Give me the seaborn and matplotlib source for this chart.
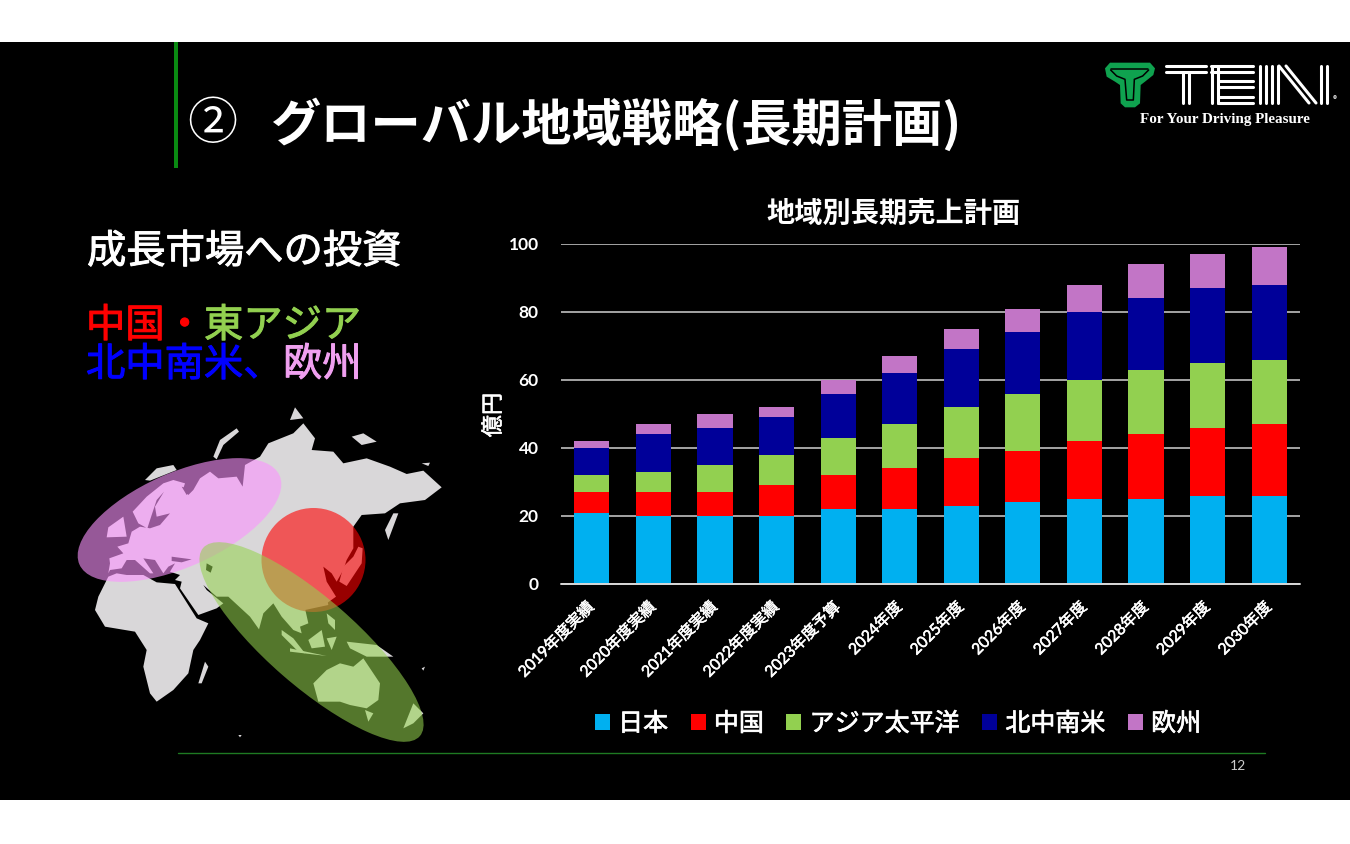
from matplotlib import pyplot as plt
from matplotlib.patches import Ellipse, Polygon, Patch, Rectangle
from matplotlib.transforms import ScaledTranslation
import matplotlib.patheffects as pe
import seaborn as sns
import numpy as np

years = ['2019年度実績', '2020年度実績', '2021年度実績', '2022年度実績', '2023年度予算', '2024年度',
         '2025年度', '2026年度', '2027年度', '2028年度', '2029年度', '2030年度']
japan = [21, 20, 20, 20, 22, 22, 23, 24, 25, 25, 26, 26]
china = [6, 7, 7, 9, 10, 12, 14, 15, 17, 19, 20, 21]
asia = [5, 6, 8, 9, 11, 13, 15, 17, 18, 19, 19, 19]
americas = [8, 11, 11, 11, 13, 15, 17, 18, 20, 21, 22, 22]
europe = [2, 3, 4, 3, 4, 5, 6, 7, 8, 10, 10, 11]
names = ['日本', '中国', 'アジア太平洋', '北中南米', '欧州']
colors = ['#00B0F0', '#FF0000', '#92D050', '#000099', '#C275C6']

sns.set_theme(style='dark')
plt.rcParams['font.family'] = ['Noto Sans CJK JP', 'DejaVu Sans']
latin_cjk = ['Lato', 'Noto Sans CJK JP']

W, H = 1350, 844
fig = plt.figure(figsize=(13.5, 8.44), dpi=100, facecolor='white')

# page overlay in pixel coordinates
bg = fig.add_axes([0, 0, 1, 1], zorder=0)
bg.set_xlim(0, W)
bg.set_ylim(H, 0)
bg.axis('off')
bg.add_patch(Rectangle((0, 42), W, 758, color='black', lw=0))
bg.add_patch(Rectangle((174, 42), 4, 126, color='#0A8A12', lw=0))
bg.plot([178, 1265], [753, 753], color='#1E7A22', lw=1)
bg.text(1238, 766, '12', color='#cccccc', fontsize=10, family='Lato', ha='center', va='center')

bg.text(187, 125, '②', color='white', fontsize=36, ha='left', va='center')
bg.text(270, 125, 'グローバル地域戦略(長期計画)', color='white', fontsize=36.2, fontweight='bold', ha='left', va='center')


def row(y, parts):
    for x, txt, c in parts:
        t = bg.text(x, y, txt, color=c, fontsize=28.3, ha='left', va='center')
        t.set_path_effects([pe.withStroke(linewidth=0.7, foreground=c)])


row(252, [(87, '成長市場への投資', 'white')])
row(326, [(86, '中国', '#FF0000'), (165, '・', '#FF0000'), (204, '東アジア', '#92D050')])
row(365, [(86, '北中南米、', '#0000FF'), (283, '欧州', '#F0A0F0')])


def mp(points):
    return [(60 + x / 3, 400 + y / 3) for x, y in points]


def lg(points):
    # logo shapes, 3x crop starting at (1090, 50)
    return [(1090 + x / 3, 50 + y / 3) for x, y in points]


land = [
    # eurasia
    [(145, 520), (150, 490), (148, 475), (190, 460), (172, 440), (205, 430), (215, 395), (240, 380), (270, 385), (300, 375),
     (330, 340), (290, 350), (285, 320), (312, 275), (290, 300), (275, 345), (262, 385), (235, 370), (218, 335), (260, 290),
     (310, 250), (340, 240), (375, 250), (370, 265), (385, 285), (400, 270), (420, 235), (450, 215), (475, 235), (530, 230),
     (548, 260), (555, 195), (600, 170), (625, 130), (700, 100), (730, 70), (765, 115), (755, 150), (820, 155), (850, 190),
     (920, 175), (990, 200), (1040, 222), (1090, 212), (1145, 262), (1095, 300), (1020, 310), (975, 340), (905, 345), (880, 380),
     (880, 445), (860, 480), (850, 510), (830, 545), (815, 520), (790, 500), (800, 545), (828, 590), (800, 610), (735, 625),
     (745, 670), (720, 680), (725, 700), (700, 690), (665, 650), (640, 610), (610, 640), (597, 688), (570, 650), (505, 590),
     (470, 590), (430, 555), (440, 570), (490, 610), (470, 625), (415, 645), (360, 565), (365, 545), (345, 540), (360, 525),
     (330, 515), (345, 490), (325, 500), (310, 520), (285, 480), (250, 475), (280, 520), (270, 520), (225, 480), (200, 480),
     (185, 505), (150, 510)],
    # africa
    [(105, 630), (115, 590), (145, 530), (170, 520), (200, 525), (250, 525), (290, 547), (345, 552), (410, 655), (445, 670),
     (420, 720), (400, 750), (385, 820), (340, 870), (290, 905), (270, 880), (250, 800), (260, 750), (225, 695), (135, 680)],
    [(145, 382), (190, 350), (200, 410), (140, 412)],
    [(460, 170), (480, 120), (530, 85), (537, 95), (490, 135), (470, 178)],
    [(255, 240), (290, 205), (340, 195), (350, 210), (270, 242)],
    [(690, 60), (705, 22), (730, 55)],
    [(875, 110), (910, 100), (950, 125), (905, 135)],
    [(975, 390), (1000, 340), (1015, 340), (985, 420)],
    [(850, 500), (880, 470), (895, 440), (908, 445), (905, 490), (860, 558), (838, 545)],
    [(415, 850), (435, 785), (445, 800), (425, 850)],
    [(760, 850), (800, 810), (840, 790), (880, 800), (910, 775), (960, 850), (955, 900), (920, 925), (870, 915), (840, 905), (775, 905)],
    [(1030, 985), (1060, 910), (1090, 940), (1060, 970)],
    [(665, 690), (700, 715), (735, 760), (715, 755), (665, 705)],
    [(745, 720), (785, 690), (795, 740), (755, 745)],
    [(800, 640), (825, 660), (825, 690), (805, 670)],
    [(860, 725), (950, 735), (1000, 770), (920, 770), (870, 745)],
    [(690, 745), (800, 768), (690, 755)],
    [(800, 715), (830, 710), (815, 750)],
    [(915, 930), (940, 940), (925, 965)],
    [(730, 610), (800, 590), (805, 615), (735, 630)],
    [(1085, 190), (1110, 188), (1105, 198)],
    [(1085, 805), (1095, 800), (1090, 812)],
    [(535, 1005), (545, 1005), (540, 1012)],
]
for piece in land:
    bg.add_patch(Polygon(mp(piece), closed=True, color='#D9D7D9', lw=0, zorder=2))

seas = [
    [(335, 470), (395, 478), (365, 487), (335, 483)],
    [(440, 490), (458, 500), (452, 518), (438, 510)],
    [(365, 260), (395, 270), (380, 285)],
]
for piece in seas:
    bg.add_patch(Polygon(mp(piece), closed=True, color='black', lw=0, zorder=3))

# region ellipses sit on top of the map
bg.add_patch(Ellipse((179.5, 520), 219, 94, angle=-24, facecolor='#FC94FE', alpha=0.6, lw=0, zorder=4))
bg.add_patch(Ellipse((313.5, 560), 104, 104, facecolor='#FF0000', alpha=0.6, lw=0, zorder=5))
bg.add_patch(Ellipse((311.5, 642), 287, 88, angle=41, facecolor='#95D24F', alpha=0.57, lw=0, zorder=6))

# logo
green = '#0FA24F'
bg.add_patch(Polygon(lg([(45, 55), (60, 38), (180, 38), (195, 55), (190, 75), (165, 95), (152, 105), (150, 160), (135, 172),
                         (105, 172), (92, 160), (90, 105), (75, 95), (50, 80)]), closed=True, color=green, lw=0))
for path in ([(62, 58), (175, 58)], [(62, 60), (80, 78), (105, 88), (110, 150), (130, 150), (133, 88), (158, 78), (176, 60)]):
    xs, ys = zip(*lg(path))
    bg.plot(xs, ys, color='black', lw=1.1)
for y in (66, 72):
    bg.plot([1166, 1206], [y, y], color='white', lw=2.2)
    bg.plot([1211, 1253], [y, y], color='white', lw=2.2)
for x in (1183, 1189):
    bg.plot([x, x], [72, 103], color='white', lw=2.2)
for x in (1212, 1218):
    bg.plot([x, x], [66, 103], color='white', lw=2.2)
for y in (81, 87, 97, 103):
    bg.plot([1218, 1253], [y, y], color='white', lw=2.2)
for x in (1260, 1266, 1272, 1278, 1321, 1327):
    bg.plot([x, x], [66, 103], color='white', lw=2.2)
for x0, x1 in ((1286, 1316), (1279, 1309)):
    bg.plot([x0, x1], [66, 103], color='white', lw=2.2)
bg.text(1335, 100, '®', color='white', fontsize=6, ha='center', va='center')
bg.text(1225, 119, 'For Your Driving Pleasure', color='white', fontsize=10.9, fontweight='bold',
        family='Liberation Serif', ha='center', va='center')

# stacked bars
ax = fig.add_axes([561 / W, 1 - 584 / H, 739 / W, 340 / H], zorder=2)
ax.set_facecolor('none')
bottom = np.zeros(len(years))
for vals, name, c in zip([japan, china, asia, americas, europe], names, colors):
    sns.barplot(x=years, y=vals, bottom=bottom, color=c, saturation=1, width=0.57, ax=ax, zorder=3, linewidth=0)
    bottom = bottom + np.array(vals)

ax.set_ylim(0, 100)
ax.set_xlim(-0.5, 11.5)
ax.set_yticks(range(0, 101, 20))
ax.grid(axis='y', color='#BFBFBF', lw=1.2, zorder=0)
ax.grid(axis='x', visible=False)
sns.despine(ax=ax, left=True, right=True, top=True, bottom=True)
ax.axhline(0, color='#D9D9D9', lw=1.4, zorder=4, clip_on=False)
ax.tick_params(axis='y', colors='white', labelsize=12.5, length=0, pad=16)
ax.tick_params(axis='x', colors='white', labelsize=11.3, length=0, pad=11)
for lab in ax.get_yticklabels():
    lab.set_fontweight('bold')
    lab.set_family('Lato')
shift = ScaledTranslation(-5 / 100, 0, fig.dpi_scale_trans)
for lab in ax.get_xticklabels():
    lab.set_family(latin_cjk)
    lab.set_rotation(45)
    lab.set_ha('right')
    lab.set_rotation_mode('anchor')
    lab.set_transform(lab.get_transform() + shift)
    lab.set_path_effects([pe.withStroke(linewidth=0.4, foreground='white')])
ylab = ax.set_ylabel('億円', color='white', fontsize=16)
ylab.set_path_effects([pe.withStroke(linewidth=0.4, foreground='white')])
ax.yaxis.set_label_coords(-0.076, 0.497)
ax.set_title('地域別長期売上計画', color='white', fontsize=20.3, fontweight='bold', pad=16, x=0.45)

handles = [Patch(color=c, lw=0) for c in colors]
leg = fig.legend(handles, names, ncol=5, loc='center', bbox_to_anchor=(898 / W, 1 - 724 / H), frameon=False, fontsize=18,
                 labelcolor='white', handlelength=0.6, handleheight=0.6, handletextpad=0.33, columnspacing=0.9)
for t in leg.get_texts():
    t.set_path_effects([pe.withStroke(linewidth=0.5, foreground='white')])

plt.savefig('out.png', dpi=100, facecolor='white')
